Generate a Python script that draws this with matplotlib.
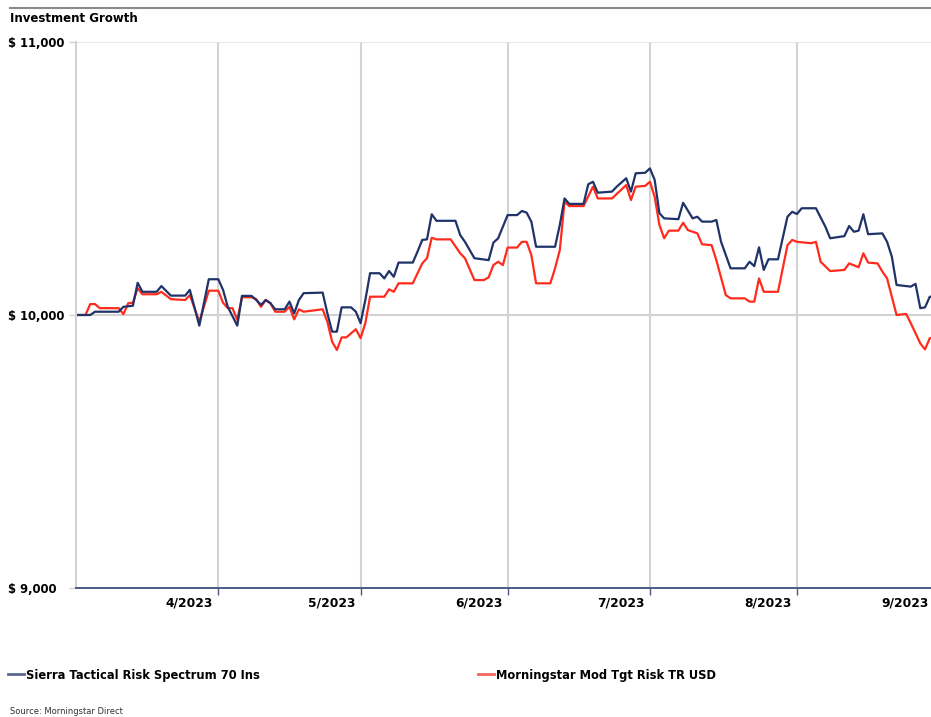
import numpy as np
import pandas as pd
import matplotlib
matplotlib.use("Agg")
import matplotlib.pyplot as plt
import matplotlib.dates as mdates
import matplotlib.transforms as mtransforms
from matplotlib.lines import Line2D

# values (growth of $10,000)
sierra_dates = ["03-02", "03-05", "03-06", "03-11", "03-12", "03-14", "03-15", "03-16", "03-19", "03-20",
                "03-22", "03-25", "03-26", "03-28", "03-30", "04-01", "04-02", "04-03", "04-05", "04-06",
                "04-08", "04-09", "04-10", "04-11", "04-12", "04-13", "04-15", "04-16", "04-17", "04-18",
                "04-19", "04-23", "04-24", "04-25", "04-26", "04-27", "04-29", "04-30", "05-01", "05-02",
                "05-03", "05-05", "05-06", "05-07", "05-08", "05-09", "05-12", "05-13", "05-14", "05-15",
                "05-16", "05-17", "05-21", "05-22", "05-23", "05-25", "05-28", "05-29", "05-30", "06-01",
                "06-03", "06-04", "06-05", "06-06", "06-07", "06-11", "06-12", "06-13", "06-14", "06-17",
                "06-18", "06-19", "06-20", "06-23", "06-24", "06-26", "06-27", "06-28", "06-30", "07-01",
                "07-02", "07-03", "07-04", "07-07", "07-08", "07-10", "07-11", "07-12", "07-14", "07-15",
                "07-16", "07-18", "07-21", "07-22", "07-23", "07-24", "07-25", "07-26", "07-28", "07-30",
                "07-31", "08-01", "08-02", "08-05", "08-07", "08-08", "08-11", "08-12", "08-13", "08-14",
                "08-15", "08-16", "08-19", "08-20", "08-21", "08-22", "08-25", "08-26", "08-27", "08-28",
                "08-29", "08-30"]
sierra_vals = [10000, 10000, 10012, 10012, 10030, 10034, 10118, 10085, 10085, 10106,
               10071, 10071, 10092, 9961, 10131, 10131, 10092, 10030, 9961, 10070,
               10070, 10055, 10037, 10055, 10043, 10021, 10021, 10049, 10006, 10055,
               10080, 10082, 10006, 9939, 9939, 10028, 10028, 10012, 9970, 10055,
               10153, 10153, 10134, 10161, 10140, 10192, 10192, 10232, 10275, 10277,
               10369, 10345, 10345, 10293, 10268, 10208, 10201, 10265, 10281, 10366,
               10366, 10381, 10375, 10342, 10250, 10250, 10330, 10427, 10407, 10407,
               10479, 10488, 10448, 10452, 10470, 10501, 10452, 10519, 10521, 10537,
               10495, 10373, 10354, 10351, 10411, 10354, 10360, 10342, 10342, 10348,
               10268, 10171, 10171, 10195, 10179, 10248, 10165, 10204, 10204, 10360,
               10378, 10370, 10391, 10391, 10323, 10281, 10289, 10326, 10305, 10309,
               10369, 10296, 10299, 10268, 10214, 10110, 10104, 10114, 10025, 10028,
               10067, 10067]

bench_dates = ["03-02", "03-04", "03-05", "03-06", "03-07", "03-11", "03-12", "03-13", "03-14", "03-15",
               "03-16", "03-19", "03-20", "03-22", "03-25", "03-26", "03-28", "03-30", "04-01", "04-02",
               "04-03", "04-04", "04-05", "04-06", "04-08", "04-09", "04-10", "04-11", "04-12", "04-13",
               "04-15", "04-16", "04-17", "04-18", "04-19", "04-23", "04-24", "04-25", "04-26", "04-27",
               "04-28", "04-29", "04-30", "05-01", "05-02", "05-03", "05-06", "05-07", "05-08", "05-09",
               "05-12", "05-14", "05-15", "05-16", "05-17", "05-20", "05-22", "05-23", "05-25", "05-27",
               "05-28", "05-29", "05-30", "05-31", "06-01", "06-03", "06-04", "06-05", "06-06", "06-07",
               "06-10", "06-11", "06-12", "06-13", "06-14", "06-17", "06-19", "06-20", "06-23", "06-26",
               "06-27", "06-28", "06-30", "07-01", "07-02", "07-03", "07-04", "07-05", "07-07", "07-08",
               "07-09", "07-11", "07-12", "07-14", "07-15", "07-17", "07-18", "07-21", "07-22", "07-23",
               "07-24", "07-25", "07-28", "07-30", "07-31", "08-01", "08-04", "08-05", "08-06", "08-08",
               "08-11", "08-12", "08-14", "08-15", "08-16", "08-18", "08-19", "08-20", "08-22", "08-24",
               "08-25", "08-27", "08-28", "08-29", "08-30"]
bench_vals = [10000, 10000, 10040, 10040, 10025, 10025, 10003, 10043, 10045, 10098,
              10076, 10076, 10085, 10058, 10055, 10073, 9975, 10089, 10089, 10045,
              10025, 10025, 9982, 10065, 10065, 10058, 10030, 10055, 10043, 10012,
              10012, 10030, 9984, 10021, 10012, 10021, 9975, 9902, 9872, 9918,
              9918, 9933, 9948, 9915, 9970, 10067, 10067, 10094, 10085, 10116,
              10116, 10189, 10208, 10283, 10277, 10277, 10226, 10208, 10128, 10128,
              10138, 10183, 10195, 10183, 10247, 10247, 10268, 10268, 10220, 10116,
              10116, 10171, 10238, 10415, 10399, 10399, 10470, 10427, 10427, 10476,
              10421, 10470, 10473, 10488, 10433, 10330, 10281, 10309, 10309, 10338,
              10311, 10299, 10259, 10256, 10201, 10073, 10061, 10061, 10049, 10049,
              10134, 10085, 10085, 10256, 10275, 10268, 10263, 10268, 10195, 10161,
              10165, 10189, 10175, 10226, 10192, 10189, 10159, 10134, 10000, 10004,
              9970, 9896, 9874, 9915, 9915]

series_names = ["Sierra Tactical Risk Spectrum 70 Ins", "Morningstar Mod Tgt Risk TR USD"]
y_ticks = [9000, 10000, 11000]
y_labels = ["$ 9,000", "$ 10,000", "$ 11,000"]
month_ticks = ["2023-04-01", "2023-05-01", "2023-06-01", "2023-07-01", "2023-08-01", "2023-09-01"]
month_labels = ["4/2023", "5/2023", "6/2023", "7/2023", "8/2023", "9/2023"]

navy = "#1f3368"
red = "#ff2b1c"
grid_c = "#d3d3d3"

s_dates = pd.to_datetime(["2023-" + d for d in sierra_dates])
b_dates = pd.to_datetime(["2023-" + d for d in bench_dates])

W, H = 931, 717
fig = plt.figure(figsize=(W / 100, H / 100), dpi=100)
ax = fig.add_axes([76 / W, 1 - 588 / H, (944 - 76) / W, (588 - 42) / H])

ax.plot(b_dates, bench_vals, color=red, lw=1.6, solid_joinstyle="round")
ax.plot(s_dates, sierra_vals, color=navy, lw=1.6, solid_joinstyle="round")

ax.set_xlim(pd.Timestamp("2023-03-02"), pd.Timestamp("2023-09-01"))
ax.set_ylim(9000, 11000)

# grid
for m in pd.to_datetime(month_ticks):
    ax.axvline(m, color=grid_c, lw=1.5, zorder=0)
ax.axhline(10000, color=grid_c, lw=1.5, zorder=0)
ax.axhline(11000, color="#e4e4e4", lw=1.2, zorder=0)

for side in ["top", "right"]:
    ax.spines[side].set_visible(False)
ax.spines["left"].set_color(grid_c)
ax.spines["left"].set_linewidth(1.5)
ax.spines["bottom"].set_color("#4b5a84")
ax.spines["bottom"].set_linewidth(1.4)

ax.set_xticks(pd.to_datetime(month_ticks))
ax.set_xticklabels(month_labels, fontsize=8.8, fontweight="bold", ha="right")
ax.tick_params(axis="x", length=5, width=1, color="#4b5a84", pad=1)
offset = mtransforms.ScaledTranslation(-5 / 100, 0, fig.dpi_scale_trans)
last_offset = mtransforms.ScaledTranslation(-15 / 100, 0, fig.dpi_scale_trans)
xlabs = ax.get_xticklabels()
for lab in xlabs[:-1]:
    lab.set_transform(lab.get_transform() + offset)
xlabs[-1].set_transform(xlabs[-1].get_transform() + last_offset)

ax.set_yticks(y_ticks)
ax.set_yticklabels(y_labels, fontsize=8.4, fontweight="bold", ha="left")
ax.tick_params(axis="y", length=5, width=1, color=grid_c, pad=44)

# header
fig.add_artist(Line2D([10 / W, 1], [1 - 8 / H, 1 - 8 / H], color="#8a8a8a", lw=1.5))
fig.text(10 / W, 1 - 18 / H, "Investment Growth", fontsize=8.5, fontweight="bold", va="center", ha="left")

# legend
h1 = Line2D([], [], color="#5a6890", lw=2)
h2 = Line2D([], [], color="#f2675c", lw=2)
for h, name, x0 in [(h1, series_names[0], 8), (h2, series_names[1], 478)]:
    fig.legend(handles=[h], labels=[name], loc="center left",
               bbox_to_anchor=(x0 / W, 1 - 675 / H), frameon=False,
               prop={"size": 8.3, "weight": "bold"}, handlelength=1.4,
               handletextpad=0.2, borderpad=0, borderaxespad=0)

fig.text(10 / W, 1 - 712 / H, "Source: Morningstar Direct", fontsize=6, color="#333333",
         va="center", ha="left")

fig.savefig("out.png", dpi=100)
